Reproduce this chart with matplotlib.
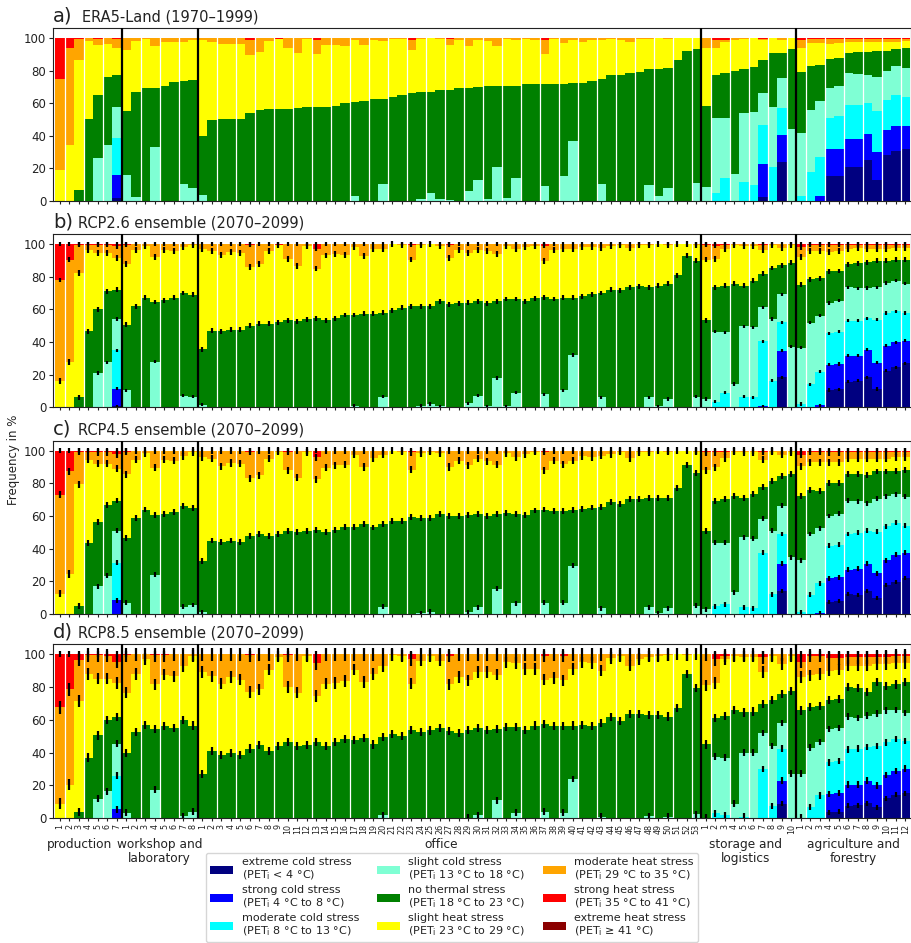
import numpy as np
import matplotlib.pyplot as plt
from matplotlib.patches import Patch
from matplotlib.transforms import blended_transform_factory

plt.rcParams['font.family'] = ['DejaVu Sans']
plt.rcParams['text.color'] = '#222222'
plt.rcParams['axes.edgecolor'] = '#222222'
plt.rcParams['xtick.color'] = '#222222'
plt.rcParams['ytick.color'] = '#222222'

# building groups, number of buildings per group
group_names = ["production", "workshop and\nlaboratory", "office",
               "storage and\nlogistics", "agriculture and\nforestry"]
group_sizes = [7, 8, 53, 10, 12]

class_labels = [
    "extreme cold stress\n(PET$_\\mathrm{i}$ < 4 °C)",
    "strong cold stress\n(PET$_\\mathrm{i}$ 4 °C to 8 °C)",
    "moderate cold stress\n(PET$_\\mathrm{i}$ 8 °C to 13 °C)",
    "slight cold stress\n(PET$_\\mathrm{i}$ 13 °C to 18 °C)",
    "no thermal stress\n(PET$_\\mathrm{i}$ 18 °C to 23 °C)",
    "slight heat stress\n(PET$_\\mathrm{i}$ 23 °C to 29 °C)",
    "moderate heat stress\n(PET$_\\mathrm{i}$ 29 °C to 35 °C)",
    "strong heat stress\n(PET$_\\mathrm{i}$ 35 °C to 41 °C)",
    "extreme heat stress\n(PET$_\\mathrm{i}$ ≥ 41 °C)",
]
class_colors = ["#000080", "#0000ff", "#00ffff", "#7fffd4", "#008000",
                "#ffff00", "#ffa500", "#ff0000", "#8b0000"]

# values are cumulative tops (in %) of each class, stacked from cold to hot
# order in each list: production | workshop | office | storage | agriculture

# ---- a) ERA5-Land 1970-1999
A_XCOLD = ([0, 0, 0, 0, 0, 0, 1.5] + [0] * 8 + [0] * 53 +
           [0, 0, 0, 0, 0, 0, 2, 0, 24, 0] +
           [0, 0, 0, 15, 15, 20.5, 21, 25, 12.5, 28, 30.5, 31.5])
A_SCOLD = ([0, 0, 0, 0, 0, 0, 15.5] + [0] * 8 + [0] * 53 +
           [0, 0, 0, 0, 0, 0, 22.5, 0, 40.5, 0] +
           [0, 0, 3, 32, 32, 38, 38, 41, 30, 43.5, 46, 46])
A_MCOLD = ([0, 0, 0, 0, 0, 0, 38.5] + [0] * 8 + [0] * 53 +
           [0, 5, 14, 0, 11.5, 9.5, 46.5, 21, 57, 0] +
           [3, 17.5, 27, 51, 52, 59, 59, 60, 55, 62, 65, 64])
A_SLCOLD = ([0, 0, 0, 0, 26, 34.5, 57.5] +
            [16, 2, 0, 33, 0, 0, 10.5, 8] +
            [3.5, 0, 0, 0, 0, 0, 0, 0, 0, 0,
             0, 0, 0, 0, 0, 0, 3, 0, 0, 10.5,
             0, 0, 0, 1, 5, 1, 0.5, 0, 6, 12.5,
             1, 20.5, 1.5, 14, 0, 0, 9, 0, 15, 36.5,
             0, 0, 10, 0, 0, 0, 0, 9.7, 3, 8,
             0, 0, 11] +
            [8.5, 51, 51, 16.5, 54, 54.5, 66.5, 57.5, 75.5, 44] +
            [41.5, 56, 61.4, 69.5, 70.5, 78.5, 78, 77.5, 76, 80, 83, 81.5])
A_NONE = ([0, 0, 6.5, 50.5, 65, 76, 77] +
          [55, 67, 69, 69, 70.5, 73, 73.5, 74] +
          [40, 49.5, 50.5, 50.5, 50.5, 54, 56, 56.5, 56.5, 56.5,
           57, 57.5, 57.5, 57.5, 58.5, 60, 60.5, 61, 62.5, 62.5,
           64, 65, 66, 67, 67, 68, 68, 69.4, 69.4, 70,
           70.5, 70.5, 70.5, 70.5, 71.5, 71.5, 71.5, 71.5, 71.5, 72.5,
           72.5, 73.5, 75, 77.5, 77.5, 78.5, 79.3, 81, 81, 81.7,
           86.5, 92, 93] +
          [58, 77, 78.5, 80, 81, 82.5, 86.5, 91, 90.5, 93.5] +
          [79.3, 83, 83.6, 87.3, 87.5, 91, 91.5, 91.5, 92, 92, 93.5, 94])
A_SLHEAT = ([19, 34, 86.5, 98, 96, 96.5, 94] +
            [92.5, 98, 99.5, 95, 97.5, 97.5, 97.5, 99] +
            [99, 97.5, 96.5, 96.5, 96.5, 89.5, 91.5, 98, 99.5, 94,
             91, 99.5, 90, 95.5, 96, 95, 98.5, 95.5, 98.5, 98,
             99.5, 99.5, 92.5, 99.5, 100, 99.5, 95.5, 98.5, 95, 99,
             98, 95, 99.5, 99, 99.5, 99, 90, 99.5, 97, 98.5,
             97.5, 98.5, 99, 99.5, 99, 97.5, 99.5, 99.5, 100, 99.5,
             100, 100, 100] +
            [94, 94, 97.5, 99, 99.5, 100, 98.5, 100, 98.5, 100] +
            [94, 97, 97, 96.5, 97, 97.5, 97.5, 97.5, 97.5, 97.5, 97.5, 98])
A_MHEAT = ([75, 94, 99.5, 100, 99.5, 100, 99.5] + [100] * 8 +
           [100, 100, 100, 100, 100, 99, 100, 100, 99.5, 100,
            100, 100, 98.5, 100, 100, 100, 100, 100, 100, 100,
            100, 100, 98.5, 100, 100, 100, 99.5, 100, 100, 100,
            100, 100, 100, 100, 100, 100, 99, 100, 100, 100,
            100, 100, 100, 100, 100, 100, 100, 100, 100, 100,
            100, 100, 100] +
           [100, 99, 99, 100, 100, 100, 99.5, 100, 100, 100] +
           [99, 99.5, 99.5, 99.5, 99.5, 99.5, 99.5, 99.5, 99.5, 99.5, 99.5, 99.5])

# ---- b) RCP2.6 ensemble 2070-2099
B_XCOLD = ([0, 0, 0, 0, 0, 0, 0.5] + [0] * 8 + [0] * 53 +
           [0, 0, 0, 0, 0, 0, 0, 0, 18.4, 0] +
           [0, 0, 0, 10.6, 11, 15.7, 16.2, 18.4, 11.2, 22.5, 24.5, 27])
B_SCOLD = ([0, 0, 0, 0, 0, 0, 11.5] + [0] * 8 + [0] * 53 +
           [0, 0, 0, 0, 0, 0, 0.5, 0, 34.6, 0] +
           [0, 0, 1.2, 26, 26.5, 31.7, 31.7, 35.2, 27.4, 37.8, 39.9, 40.7])
B_MCOLD = ([0, 0, 0, 0, 0, 0, 35] + [0] * 8 + [0] * 53 +
           [0, 3.5, 9, 0, 6.5, 6, 40.3, 16.4, 52.1, 0] +
           [2, 14.1, 21.9, 45.4, 46.4, 53, 53, 54.6, 53.6, 57.7, 58.7, 57.7])
B_SLCOLD = ([0, 0, 0, 0, 21, 27.5, 54] +
            [10.5, 0, 0, 28, 0, 0, 7, 6.5] +
            [1.5, 0, 0, 0, 0, 0, 0, 0, 0, 0,
             0, 0, 0, 0, 0, 0, 1, 0, 0, 6.5,
             0, 0, 0, 1, 2, 0.5, 0, 0, 2.5, 7,
             0.5, 18, 0.5, 9, 0, 0, 8, 0, 10.5, 32,
             0, 0, 6, 0, 0, 0, 0, 6, 0.5, 5,
             0, 0, 6.5] +
            [5, 46.4, 46, 14.3, 49.5, 49, 61.3, 54, 69.3, 37.2] +
            [36.6, 51.9, 56, 63.8, 65.4, 73.4, 72.8, 73, 73.6, 76.1, 77.5, 75.7])
B_NONE = ([0, 0, 6, 46.5, 60, 71, 72] +
          [50.5, 62, 67, 64.5, 65.5, 67, 70, 69] +
          [35.5, 47, 46.5, 47.5, 47.5, 50, 51.3, 51.3, 52, 53.4,
           52.6, 54, 54.6, 53.4, 54.6, 56.5, 56.5, 57.3, 57.3, 58,
           59.5, 61, 62, 62, 62, 65, 63, 63.8, 64, 65,
           63.8, 65, 66.3, 66.3, 65, 66.7, 67.3, 66.3, 67, 67,
           68, 69.3, 70, 72, 71.6, 73.4, 74, 73.4, 74.4, 75.7,
           81, 92.8, 89.8] +
          [53.2, 73.6, 74.4, 75.7, 74.4, 77.5, 81.8, 85.3, 87.1, 88.5] +
          [75, 78.5, 78.9, 83.2, 83.5, 87.7, 88.3, 88.7, 89.8, 89.8, 90.4, 90.4])
B_SLHEAT = ([16, 28, 82.5, 96.5, 94.5, 94.5, 91.5] +
            [88, 96.5, 99, 92, 96.5, 95.5, 98, 99.5] +
            [97, 96, 93.5, 95, 94.5, 86, 88, 96, 99.5, 91,
             86.5, 99, 85, 93, 94, 93.5, 98, 92.5, 97, 97,
             100, 99.5, 90.5, 99.5, 100, 98.5, 91.5, 96.5, 94.5, 96.5,
             96, 94, 98.5, 97, 98, 98.5, 89.4, 96.5, 97, 97,
             98, 98, 97.5, 98.5, 99.5, 97.5, 99.5, 99.5, 100, 99.5,
             100, 100, 99.5] +
            [90.5, 91, 97, 99.5, 99, 99, 96.5, 99.5, 97.5, 99.5] +
            [92, 95.5, 96, 95, 95.5, 97, 97.5, 97, 97, 97, 97.5, 97.5])
B_MHEAT = ([78, 90.5, 99.5, 99.5, 99.5, 99.5, 98.5] +
           [99.5, 100, 100, 100, 100, 100, 100, 100] +
           [100, 100, 100, 100, 100, 99.5, 100, 100, 99.5, 100,
            100, 100, 97, 100, 100, 100, 100, 100, 100, 100,
            100, 100, 99.5, 100, 100, 100, 99.5, 100, 100, 100,
            100, 100, 100, 100, 100, 100, 99, 100, 100, 100,
            100, 100, 100, 100, 100, 100, 100, 100, 100, 100,
            100, 100, 100] +
           [99.5, 99, 99.5, 100, 100, 100, 99.5, 100, 100, 100] +
           [98, 99.5, 99.5, 99.5, 99.5, 99.5, 99.5, 99.5, 99.5, 99.5, 99.5, 99.5])

# ---- c) RCP4.5 ensemble 2070-2099
C_XCOLD = ([0] * 7 + [0] * 8 + [0] * 53 +
           [0, 0, 0, 0, 0, 0, 0, 0, 14.3, 0] +
           [0, 0, 0, 7.2, 8, 12, 11.5, 14.3, 9.6, 17.8, 19.8, 21.9])
C_SCOLD = ([0, 0, 0, 0, 0, 0, 8.5] + [0] * 8 + [0] * 53 +
           [0, 0, 0, 0, 0, 0, 0, 0, 30.7, 0] +
           [0, 0, 0.5, 21.9, 22.5, 27.2, 27.6, 30.7, 25, 33, 36.2, 37.6])
C_MCOLD = ([0, 0, 0, 0, 0, 0, 31.5] + [0] * 8 + [0] * 53 +
           [0, 4.7, 5.9, 0, 4, 3.5, 37.6, 12, 49, 0] +
           [1, 11.7, 18.8, 41.7, 42.3, 49, 49.7, 50.9, 50.5, 53.6, 56, 54.2])
C_SLCOLD = ([0, 0, 0, 0, 17, 23.5, 51] +
            [7, 0, 0, 24, 0, 0, 4.5, 5.5] +
            [1, 0, 0, 0, 0, 0, 0, 0, 0, 0,
             0, 0, 0, 0, 0, 0, 0, 0, 0, 4.5,
             0, 0, 0, 0.5, 1.5, 0, 0, 0, 1, 4,
             0, 15.5, 0, 6.5, 0, 0, 7, 0, 7, 29.5,
             0, 0, 3.5, 0, 0, 0, 0, 4, 0.5, 3.5,
             0, 0, 5] +
            [3, 43.6, 43.6, 13.3, 47, 46, 58.3, 51, 66.3, 34.8] +
            [33, 49, 52.6, 60, 61.3, 69.3, 69, 67.9, 70.6, 72, 73.4, 71.8])
C_NONE = ([0, 0, 5, 43.5, 56.5, 67, 69.5] +
          [46.5, 59, 64, 60.5, 61.5, 62.5, 66, 65] +
          [32.5, 45, 44, 45, 44, 48, 49, 48, 49, 51,
           50, 51, 51.5, 50, 51.5, 53.5, 53.5, 55, 53, 55,
           57, 57, 59.5, 59, 59, 61.5, 60, 60, 60.5, 61.5,
           60, 61, 62, 61.5, 60.7, 63.4, 64, 63.2, 63.2, 63.8,
           64.4, 65.2, 65.8, 68.5, 67.3, 70.3, 70.6, 71, 71, 71,
           77, 91.4, 86.3] +
          [51, 69.3, 70.3, 72.4, 71, 73.6, 77.9, 81.6, 84.3, 85.9] +
          [72.4, 76, 75.5, 80.5, 80.2, 85.9, 85.9, 84.9, 87.3, 87.3, 87.7, 88.3])
C_SLHEAT = ([12.5, 24.5, 79.5, 94.5, 92, 92, 89] +
            [85.5, 94.5, 98.5, 89.5, 94.5, 94, 96.5, 99] +
            [96, 95, 90.5, 92.5, 92, 83, 85, 95, 99.5, 88,
             83.5, 99, 82.5, 89.5, 91, 91.5, 97.5, 90, 95.5, 97.5,
             100, 99.5, 88.5, 98.5, 99.5, 98.5, 90, 94, 91, 95,
             93.5, 91.5, 98.5, 96, 98, 99.5, 88, 94, 91.8, 94,
             96.5, 96, 97, 98, 99.5, 95.5, 99, 99, 100, 99.5,
             100, 100, 99.5] +
            [88, 89.8, 95.5, 99.5, 99, 99, 94.5, 99.5, 97.5, 99] +
            [90.5, 93, 93, 93, 93, 95, 95, 95, 95, 95, 96, 96])
C_MHEAT = ([73, 87.5, 99.5, 99, 99, 99, 98] +
           [99.5, 100, 100, 100, 100, 100, 100, 100] +
           [100, 100, 100, 100, 100, 99.5, 100, 100, 100, 99.5,
            100, 100, 96, 100, 100, 100, 100, 100, 100, 100,
            100, 100, 99, 100, 100, 100, 100, 100, 100, 100,
            100, 100, 100, 100, 100, 100, 99.5, 100, 100, 100,
            100, 100, 100, 100, 100, 100, 100, 100, 100, 100,
            100, 100, 100] +
           [99, 99, 99.5, 100, 100, 100, 99.5, 100, 100, 100] +
           [97.5, 99.5, 99.5, 99, 99, 99.5, 99.5, 99.5, 99.5, 99.5, 99.5, 99.5])

# ---- d) RCP8.5 ensemble 2070-2099
D_XCOLD = ([0] * 7 + [0] * 8 + [0] * 53 +
           [0, 0, 0, 0, 0, 0, 0, 0, 9, 0] +
           [0, 0, 0, 3.7, 4, 7.8, 8, 9.2, 6.8, 12.3, 14.4, 15.4])
D_SCOLD = ([0, 0, 0, 0, 0, 0, 5.5] + [0] * 8 + [0] * 53 +
           [0, 0, 0, 0, 0, 0, 0, 0, 23, 0] +
           [0, 0, 0, 14.8, 15.4, 20.5, 20.5, 23, 20, 26.3, 28.7, 30.2])
D_MCOLD = ([0, 0, 0, 0, 0, 0, 26] + [0] * 8 + [0] * 53 +
           [0, 3, 2, 0, 1, 0, 30, 7.5, 42.5, 0] +
           [0.5, 7, 14, 34, 35, 42, 42.5, 43.5, 44, 46.2, 48.3, 47.2])
D_SLCOLD = ([0, 0, 0, 0, 12, 16.5, 45.5] +
            [3.5, 0, 0, 17.5, 0, 0, 1.5, 4] +
            [0, 0, 0, 0, 0, 0, 0, 0, 0, 0,
             0, 0, 0, 0, 0, 0, 0, 0, 0, 2,
             0, 0, 0, 0, 0, 0, 0, 0, 0.5, 2,
             0, 11, 0, 3.5, 0, 0, 4, 0, 3.5, 24,
             0, 0, 1, 0, 0, 0, 0, 1.5, 0, 1,
             0, 0, 2.5] +
            [0.5, 37.5, 37, 9, 40, 40, 52, 44, 58, 27.3] +
            [27.3, 43, 46.5, 54.5, 55, 62, 61, 62.5, 63.7, 65.7, 66, 64.1])
D_NONE = ([0, 0, 4, 37, 50.5, 60, 61.5] +
          [40, 52.5, 57, 54.5, 56, 55, 60, 56.5] +
          [27, 41, 38.5, 40, 38.5, 42.5, 44.5, 41, 44, 46.5,
           44, 44.5, 46.5, 44, 46.5, 48.5, 47.5, 49, 45, 49.5,
           51.5, 50, 54, 52.5, 53.5, 55, 53, 52, 54, 55,
           54, 54.5, 55.5, 55.5, 54, 56.5, 57.5, 56, 56, 56.5,
           57, 56, 58, 61.5, 59.5, 63.5, 63.5, 63, 63, 62,
           67, 88, 79.5] +
          [45, 61, 62.5, 66, 64.5, 65, 69.5, 72, 75.6, 77.6] +
          [65.7, 68, 68.5, 72, 72.5, 80, 79.5, 77, 82.8, 80.7, 81.5, 82.8])
D_SLHEAT = ([9, 20.5, 71.5, 88, 85, 85, 82.5] +
            [76.5, 88, 97, 81.5, 87.5, 86.5, 92.5, 99] +
            [89, 86.5, 82, 86, 84.5, 77, 78.5, 90.5, 98.5, 80,
             76.5, 99, 74.5, 82, 82.5, 83.5, 90.5, 83, 88, 92.5,
             99.5, 99, 82, 96, 99, 96, 81.5, 86, 84, 89,
             89, 87.5, 95, 94.5, 91, 91, 84.5, 85.5, 84, 91,
             95, 94.5, 90, 97.5, 99, 93, 97, 98.5, 99, 99.5,
             100, 99.5, 100] +
            [81, 82.5, 97, 99, 98.5, 98.5, 89, 99, 94, 99] +
            [86, 87, 88, 90, 90.5, 93, 93, 93, 94, 94, 94.5, 94.5])
D_MHEAT = ([67.5, 78.5, 96.5, 99.5, 99.5, 99, 95.5] +
           [99.5, 100, 100, 99.5, 99.5, 100, 100, 100] +
           [100, 100, 100, 100, 100, 99.5, 100, 100, 100, 99.5,
            100, 100, 94.5, 100, 100, 100, 100, 100, 100, 100,
            100, 100, 97, 100, 100, 100, 99, 100, 100, 100,
            100, 100, 100, 100, 100, 100, 99, 100, 99, 100,
            100, 100, 100, 100, 100, 100, 100, 100, 100, 100,
            100, 100, 100] +
           [100, 97, 99, 100, 100, 100, 98, 100, 100, 100] +
           [95.5, 99, 99, 97.5, 97.5, 98, 98, 98, 98.5, 98.5, 99, 99])

# typical ensemble spread (half length of the black bars) at each class top
B_ERR = [1.0, 1.0, 1.0, 1.0, 1.5, 1.8, 1.5, 1.0]
C_ERR = [1.2, 1.5, 1.5, 1.5, 1.8, 2.2, 2.2, 1.5]
D_ERR = [1.5, 2.0, 2.0, 2.0, 2.5, 3.5, 4.0, 2.0]

panels = [
    ("a)", "ERA5-Land (1970–1999)", [A_XCOLD, A_SCOLD, A_MCOLD, A_SLCOLD, A_NONE, A_SLHEAT, A_MHEAT], None),
    ("b)", "RCP2.6 ensemble (2070–2099)", [B_XCOLD, B_SCOLD, B_MCOLD, B_SLCOLD, B_NONE, B_SLHEAT, B_MHEAT], B_ERR),
    ("c)", "RCP4.5 ensemble (2070–2099)", [C_XCOLD, C_SCOLD, C_MCOLD, C_SLCOLD, C_NONE, C_SLHEAT, C_MHEAT], C_ERR),
    ("d)", "RCP8.5 ensemble (2070–2099)", [D_XCOLD, D_SCOLD, D_MCOLD, D_SLCOLD, D_NONE, D_SLHEAT, D_MHEAT], D_ERR),
]

n_bars = sum(group_sizes)
x = np.arange(n_bars)
tick_labels = [str(k + 1) for n in group_sizes for k in range(n)]
group_edges = np.cumsum(group_sizes)[:-1] - 0.5
group_centers = [2.1, 10.5, 40.1, 72.2, 83.5]

fig = plt.figure(figsize=(9.12, 9.43), dpi=100)
ax_rects = [[0.0584, 0.7872, 0.9405, 0.1828],
            [0.0584, 0.5681, 0.9405, 0.1835],
            [0.0584, 0.3489, 0.9405, 0.1835],
            [0.0584, 0.1322, 0.9405, 0.1846]]
title_x = [0.0335, 0.029, 0.029, 0.029]

for p, (letter, title, tops, err) in enumerate(panels):
    ax = fig.add_axes(ax_rects[p])
    tops = [np.array(t, dtype=float) for t in tops] + [np.full(n_bars, 100.0)]
    bottom = np.zeros(n_bars)
    for k, top in enumerate(tops):
        h = np.clip(top - bottom, 0, None)
        ax.bar(x, h, bottom=bottom, width=1.0, color=class_colors[k],
               linewidth=0, zorder=1)
        if err is not None:
            m = h > 0.3
            ax.errorbar(x[m], top[m], yerr=err[k], fmt='none', ecolor='black',
                        elinewidth=1.6, capsize=0, zorder=3)
        bottom = np.maximum(bottom, top)

    for b in np.arange(0.5, n_bars - 1, 2):
        if b not in group_edges:
            ax.axvline(b, color='white', lw=0.9, zorder=2)
    for b in group_edges:
        ax.axvline(b, color='black', lw=1.6, zorder=4)

    ax.set_xlim(-0.7, n_bars - 0.4)
    ax.set_ylim(0, 106)
    ax.set_yticks([0, 20, 40, 60, 80, 100])
    ax.tick_params(axis='y', labelsize=8.5, length=3, width=0.8, pad=2)
    ax.set_xticks(x)
    ax.tick_params(axis='x', length=2.5, width=0.8, pad=1.5)
    if p == 3:
        ax.set_xticklabels(tick_labels, rotation=90, fontsize=5.8)
    else:
        ax.set_xticklabels([])

    ax.text(0.0, 1.038, letter, transform=ax.transAxes, fontsize=14,
            va='baseline', ha='left')
    ax.text(title_x[p], 1.038, title, transform=ax.transAxes, fontsize=10.5,
            va='baseline', ha='left')

    if p == 3:
        trans = blended_transform_factory(ax.transData, ax.transAxes)
        for name, cx in zip(group_names, group_centers):
            ax.text(cx, -0.114, name, transform=trans, ha='center',
                    va='top', fontsize=8.7, linespacing=1.05,
                    multialignment='center')

fig.text(0.0143, 0.512, "Frequency in %", rotation=90, ha='center',
         va='center', fontsize=8.5)

handles = [Patch(facecolor=c, edgecolor='none') for c in class_colors]
leg = fig.legend(handles, class_labels, loc='upper center', ncol=3,
                 bbox_to_anchor=(0.4956, 0.0954), borderaxespad=0,
                 fontsize=8, frameon=True, fancybox=True, edgecolor='#cccccc',
                 handlelength=2.07, handleheight=0.72, handletextpad=0.75,
                 columnspacing=1.6, labelspacing=0.35, borderpad=0.4)
for t in leg.get_texts():
    t.set_linespacing(1.05)

fig.savefig("out.png", dpi=100)
